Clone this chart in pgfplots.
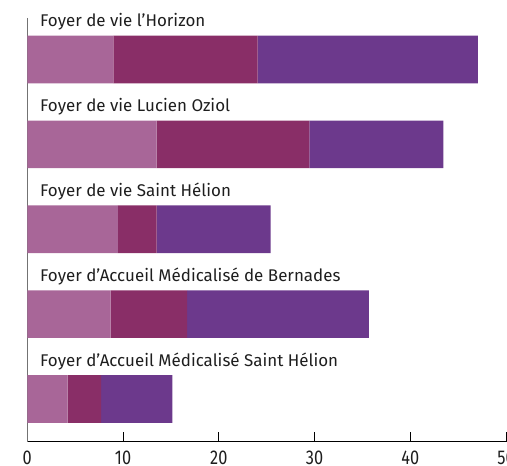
\documentclass[border=0pt]{standalone}
\usepackage{fontspec}
\setmainfont{Fira Sans}
\usepackage{graphicx}
\usepackage{pgfplots}
\pgfplotsset{compat=1.18}
\definecolor{segA}{HTML}{A86698}
\definecolor{segB}{HTML}{892E67}
\definecolor{segC}{HTML}{6C398C}
\definecolor{txt}{HTML}{1E1E1E}
\tikzset{labs/.style={anchor=base west, inner sep=0pt, text=txt, font=\fontsize{17}{20}\selectfont}}
\begin{document}
\begin{tikzpicture}
\begin{axis}[
  name=ax,
  scale only axis,
  width=478.7bp, height=423.7bp,
  xbar stacked,
  bar width=0.56,
  xmin=0, xmax=50,
  ymin=-0.489, ymax=4.503,
  y dir=reverse,
  axis x line=bottom,
  axis y line=left,
  x axis line style={-, draw=black, line width=1bp},
  y axis line style={-, draw=black!55, line width=1.2bp},
  ytick=\empty,
  xtick={0,10,20,30,40,50},
  tick align=inside,
  major tick length=10bp,
  x tick style={black, line width=1bp},
  /pgf/number format/assume math mode=true,
  xticklabel={\scalebox{0.82}[1]{\pgfmathprintnumber{\tick}}},
  xticklabel style={font=\fontsize{20}{22}\selectfont, text=txt, anchor=north, inner sep=0pt, yshift=-9bp},
  clip=false,
]
\addplot[fill=segA, draw=none] coordinates {(9.0,0) (13.5,1) (9.45,2) (8.71,3) (4.22,4)};
\addplot[fill=segB, draw=none] coordinates {(15.05,0) (15.97,1) (4.07,2) (7.98,3) (3.48,4)};
\addplot[fill=segC, draw=none] coordinates {(23.0,0) (14.0,1) (11.9,2) (18.98,3) (7.45,4)};
\node[labs] at (axis cs:1.33,-0.386) {Foyer de vie l’Horizon};
\node[labs] at (axis cs:1.33,0.614) {Foyer de vie Lucien Oziol};
\node[labs] at (axis cs:1.33,1.614) {Foyer de vie Saint Hélion};
\node[labs] at (axis cs:1.33,2.614) {Foyer d’Accueil Médicalisé de Bernades};
\node[labs] at (axis cs:1.33,3.614) {Foyer d’Accueil Médicalisé Saint Hélion};
\end{axis}
\pgfresetboundingbox
\path[use as bounding box] ([xshift=-27.3bp,yshift=-24.3bp]ax.south west) rectangle ([xshift=1bp,yshift=18bp]ax.north east);
\end{tikzpicture}
\end{document}
